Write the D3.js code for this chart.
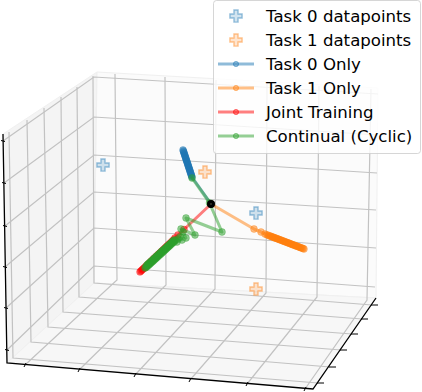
<!DOCTYPE html>
<html><head><meta charset="utf-8">
<script src="https://cdn.jsdelivr.net/npm/d3@7"></script>
<style>html,body{margin:0;padding:0;background:#fff}svg{display:block}text{font-family:"DejaVu Sans",sans-serif}</style>
</head><body><div id="chart"></div>
<script>
// projected trajectories (view-plane coordinates, origin = shared start point)
const task0X=[0,-19,-19.4,-19.7,-20,-20.4,-20.7,-21,-21.3,-21.7,-22,-22.3,-22.7,-23,-23.3,-23.6,-24,-24.3,-24.7,-25,-25.3,-25.6,-26,-26.3,-26.6,-27,-27.3,-27.6,-28];
const task0Y=[0,27,28,29,30,31,32,33,34,35,36,37,38,39,40,41,42,43,44,45,46,47,48,49,50,51,52,53,54];
const task1X=[0,43,50,54,56,57.5,59,60,61,62,63,64,65,66,67,68,69,70,71,72,73,74,75,76,77,78,79,80,81,82,83,84,85,86,87,88,89,90,91,92,93];
const task1Y=[0,-25,-28,-30,-30.8,-31.4,-32,-32.3,-32.8,-33.1,-33.5,-33.9,-34.3,-34.6,-35,-35.4,-35.8,-36.1,-36.6,-36.9,-37.3,-37.7,-38.1,-38.5,-38.8,-39.2,-39.6,-40,-40.4,-40.8,-41.1,-41.5,-41.9,-42.3,-42.6,-43,-43.4,-43.8,-44.1,-44.5,-45];
const jointX=[0,-27,-33,-36,-37.5,-39,-40.5,-42,-43.5,-45,-46.5,-48,-49.5,-51,-52.5,-54,-55.5,-57,-58.5,-60,-61.5,-63,-64.5,-66,-67,-68,-69,-70,-71];
const jointY=[0,-25.5,-31,-34,-35.8,-37.3,-38.8,-40.2,-41.6,-43,-44.5,-45.9,-47.4,-48.8,-50.2,-51.7,-53.1,-54.5,-56,-57.4,-58.9,-60.3,-61.7,-63.2,-64.1,-65.1,-66,-67,-67.9];
const contX=[0,-19,-1.5,11,-25,-16,-30,-25,-28,-33,-29,-31,-34,-36,-37,-36.8,-38,-37.6,-39,-38.6,-40,-39.5,-41,-40.4,-42,-41.5,-43,-42.4,-44,-43.5,-45,-44.4,-46,-45.6,-47,-46.5,-48,-47.6,-49,-48.5,-50,-49.5,-51,-50.6,-52,-51.5,-53,-52.4,-54,-53.6,-55,-54.5,-56,-55.4,-57,-56.6,-58,-57.5,-59,-58.4,-60,-59.6,-61,-60.5,-62,-61.5,-63,-62.6,-64,-63.5,-65,-64.6,-66];
const contY=[0,26,1,-28,-14,-31,-25,-34,-28,-35,-36,-33,-38,-36.8,-37.8,-36,-38.7,-36.7,-39.6,-37.6,-40.5,-38.6,-41.5,-39.3,-42.4,-40.3,-43.3,-41.2,-44.2,-42.2,-45.2,-43,-46.1,-44.1,-47,-45,-47.9,-45.8,-48.9,-46.6,-49.8,-47.5,-50.7,-48.6,-51.6,-49.5,-52.6,-50.2,-53.5,-51.4,-54.4,-52.2,-55.3,-53,-56.3,-54.2,-57.2,-55,-58,-55.9,-58.9,-57,-59.9,-57.8,-60.8,-58.7,-61.7,-59.7,-62.6,-60.5,-63.6,-61.6,-64];
const data0X=[-108,45], data0Y=[39,-9];
const data1X=[-6,45], data1Y=[32,-85];
const legendLabels=["Task 0 datapoints","Task 1 datapoints","Task 0 Only","Task 1 Only","Joint Training","Continual (Cyclic)"];
const seriesColors=["#1f77b4","#ff7f0e","#ff0000","#2ca02c"];
// wireframe box
const backTopX=[-96,-46,5,56,108,160], backTopY=[130,127,124,121,118,115];
const backBotX=[-94,-45,4,55,106,156], backBotY=[-76,-81,-85,-89,-93,-96];
const frontX=[-186,-132,-76,-21,36,94], frontY=[-161,-166,-171,-176,-180,-185];
const levelBackY=[127,87,49,12,-24,-62];
const levelRightX=[167,167,166,165,165,164], levelRightY=[110,69,31,-6,-44,-83];
const levelLeftX=[-208,-207,-206,-206,-205,-204], levelLeftY=[63,21,-22,-63,-104,-146];
const sideTopX=[-202,-184,-167,-150,-134,-118], sideTopY=[72,84,96,107,117,128];
const sideBotX=[-198,-180,-163,-148,-132,-117], sideBotY=[-154,-138,-123,-108,-93,-79];
const rightX=[107,119,130,141,151,161], rightY=[-179,-163,-146,-130,-115,-101];

const W=422,H=392;
const x=d3.scaleLinear().domain([-211,211]).range([0,W]);
const y=d3.scaleLinear().domain([204,-188]).range([0,H]);
const svg=d3.select("#chart").append("svg").attr("width",W).attr("height",H);
const zip=(a,b)=>a.map((v,i)=>[v,b[i]]);
const line=d3.line().x(d=>x(d[0])).y(d=>y(d[1]));

// panes
const panes=[
 {c:"#f4f4f4",p:[[-114,132],[-208,70],[-204,-159],[-117,-79]]},
 {c:"#fbfbfb",p:[[-114,132],[167,116],[165,-94],[-117,-79]]},
 {c:"#f7f7f7",p:[[-204,-159],[102,-185],[165,-94],[-117,-79]]}];
svg.append("g").selectAll("path").data(panes).join("path")
 .attr("d",d=>line(d.p)+"Z").attr("fill",d=>d.c).attr("stroke","#f0f0f0").attr("stroke-width",1);

// grid
const segs=[];
backTopX.forEach((v,i)=>{segs.push([[v,backTopY[i]],[backBotX[i],backBotY[i]],[frontX[i],frontY[i]]]);});
levelBackY.forEach((v,i)=>{segs.push([[levelLeftX[i],levelLeftY[i]],[-117,v],[levelRightX[i],levelRightY[i]]]);});
sideTopX.forEach((v,i)=>{segs.push([[v,sideTopY[i]],[sideBotX[i],sideBotY[i]],[rightX[i],rightY[i]]]);});
svg.append("g").selectAll("path").data(segs).join("path").attr("d",line)
 .attr("fill","none").attr("stroke","#c2c2c2").attr("stroke-width",1.2);

// axis lines and ticks
svg.append("path").attr("d",line([[-208,70],[-204,-159],[102,-185],[165,-94]]))
 .attr("fill","none").attr("stroke","#000").attr("stroke-width",1.3);
const ticks=[];
levelLeftX.forEach((v,i)=>ticks.push([[v-2,levelLeftY[i]+.5],[v+2,levelLeftY[i]-.5]]));
frontX.forEach((v,i)=>ticks.push([[v+1,frontY[i]+2],[v-1,frontY[i]-2]]));
rightX.forEach((v,i)=>ticks.push([[v-1,rightY[i]],[v+6,rightY[i]]]));
svg.append("g").selectAll("path").data(ticks).join("path").attr("d",line)
 .attr("stroke","#000").attr("stroke-width",1);

// datapoints
const plus=d3.symbol().type(d3.symbolCross).size(82);
function drawPlus(g,xs,ys,c){
 g.append("g").selectAll("path").data(zip(xs,ys)).join("path").attr("d",plus)
  .attr("transform",d=>`translate(${x(d[0])},${y(d[1])})`)
  .attr("fill",c).attr("fill-opacity",.2).attr("stroke",c).attr("stroke-opacity",.45).attr("stroke-width",1.4);
}
drawPlus(svg,data0X,data0Y,seriesColors[0]);
drawPlus(svg,data1X,data1Y,seriesColors[1]);

// trajectories
const series=[zip(task0X,task0Y),zip(task1X,task1Y),zip(jointX,jointY),zip(contX,contY)];
series.forEach((s,i)=>{
 const g=svg.append("g");
 g.append("path").attr("d",line(s)).attr("fill","none").attr("stroke",seriesColors[i]).attr("stroke-opacity",.5).attr("stroke-width",3).attr("stroke-linejoin","round");
 g.selectAll("circle").data(s).join("circle").attr("cx",d=>x(d[0])).attr("cy",d=>y(d[1])).attr("r",3.4)
  .attr("fill",seriesColors[i]).attr("fill-opacity",.5).attr("stroke",seriesColors[i]).attr("stroke-opacity",.4).attr("stroke-width",.9);
});
svg.append("circle").attr("cx",x(0)).attr("cy",y(0)).attr("r",4).attr("fill","#000");
svg.append("circle").attr("cx",x(0)).attr("cy",y(0)).attr("r",.8).attr("fill","#5a5a4a");

// legend
const ly=d3.scalePoint().domain(legendLabels).range([16,136]);
const lg=svg.append("g");
lg.append("rect").attr("x",213.5).attr("y",.5).attr("width",207).attr("height",153).attr("rx",3)
 .attr("fill","#fff").attr("fill-opacity",.8).attr("stroke","#ccc").attr("stroke-opacity",.8);
legendLabels.forEach((t,i)=>{
 const yy=ly(t);
 if(i<2){
  lg.append("path").attr("d",plus).attr("transform",`translate(236,${yy})`)
   .attr("fill",seriesColors[i]).attr("fill-opacity",.2).attr("stroke",seriesColors[i]).attr("stroke-opacity",.45).attr("stroke-width",1.4);
 } else {
  const c=seriesColors[i-2];
  lg.append("line").attr("x1",218).attr("x2",254).attr("y1",yy).attr("y2",yy).attr("stroke",c).attr("stroke-opacity",.5).attr("stroke-width",2.8);
  lg.append("circle").attr("cx",236).attr("cy",yy).attr("r",2.6).attr("fill",c).attr("fill-opacity",.4).attr("stroke",c).attr("stroke-opacity",.5);
 }
 lg.append("text").attr("x",266).attr("y",yy+5.5).attr("fill","#000").style("font-size","16.6px").text(t);
});
</script></body></html>
